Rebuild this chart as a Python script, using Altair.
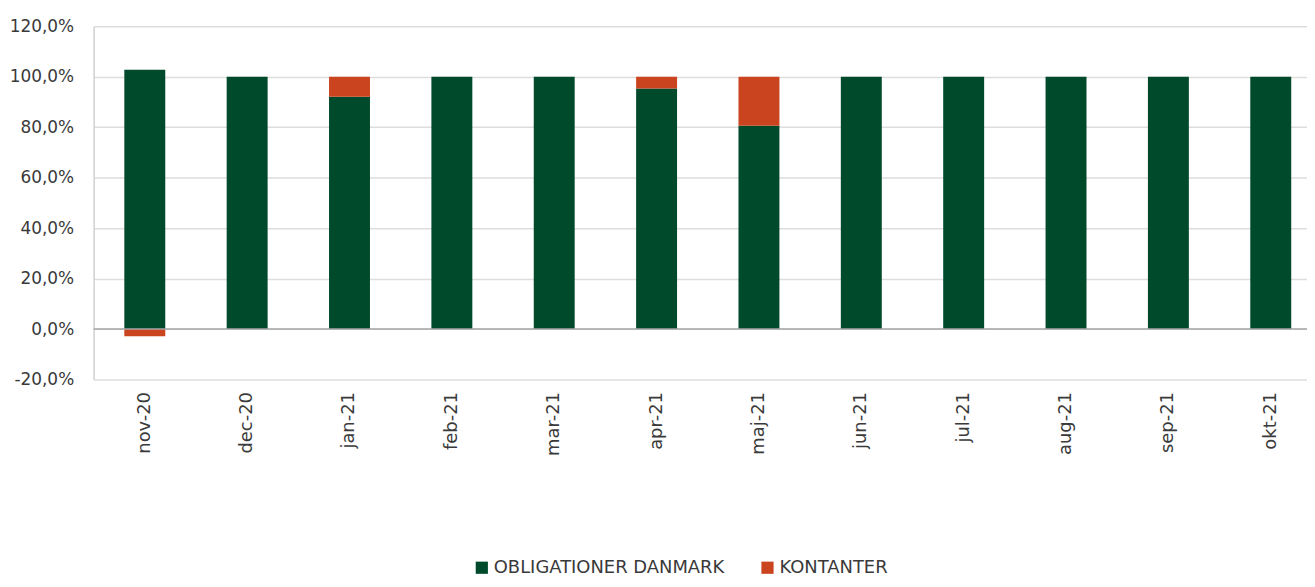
import altair as alt
import pandas as pd

months = ["nov-20", "dec-20", "jan-21", "feb-21", "mar-21", "apr-21",
          "maj-21", "jun-21", "jul-21", "aug-21", "sep-21", "okt-21"]
obligationer = [102.8, 100.0, 92.1, 100.0, 100.0, 95.3, 80.6, 100.0, 100.0, 100.0, 100.0, 100.0]
kontanter = [-2.8, 0.0, 7.9, 0.0, 0.0, 4.7, 19.4, 0.0, 0.0, 0.0, 0.0, 0.0]
series = ["OBLIGATIONER DANMARK", "KONTANTER"]
colors = ["#004A2C", "#C9441F"]
y_ticks = [-20, 0, 20, 40, 60, 80, 100, 120]

rows = []
for i, m in enumerate(months):
    rows.append({"month": m, "series": series[0], "value": obligationer[i], "ord": 0})
    rows.append({"month": m, "series": series[1], "value": kontanter[i], "ord": 1})
df = pd.DataFrame(rows)

FONT = "DejaVu Sans"
TXT = "#3A3A3A"

bars = alt.Chart(df).mark_bar().encode(
    x=alt.X("month:N", sort=months,
            scale=alt.Scale(paddingInner=0.6, paddingOuter=0.3, range=[0, 1234]),
            axis=alt.Axis(title=None, labelAngle=-90, labelFontSize=18, labelFont=FONT,
                          labelColor=TXT, labelPadding=12, ticks=False, domain=False,
                          grid=False, labelBaseline="middle", labelAlign="right")),
    y=alt.Y("value:Q", stack="zero",
            scale=alt.Scale(domain=[-20, 120], nice=False),
            axis=alt.Axis(title=None, values=y_ticks,
                          labelExpr="replace(replace(format(datum.value, '.1f'), '.', ','), '\u2212', '-') + '%'",
                          labelFontSize=17, labelFont=FONT, labelColor=TXT, labelPadding=20,
                          ticks=False, domain=True, domainColor="#D0D0D0", domainWidth=1.5,
                          grid=True, gridColor="#DDDDDD", gridWidth=1.5)),
    color=alt.Color("series:N", sort=series,
                    scale=alt.Scale(domain=series, range=colors),
                    legend=alt.Legend(title=None, orient="none", direction="horizontal",
                                      legendX=381, legendY=535, symbolType="square",
                                      symbolSize=150, symbolStrokeWidth=0,
                                      labelFontSize=18, labelFont=FONT, labelColor=TXT,
                                      labelOffset=3, columnPadding=34, labelLimit=500)),
    order=alt.Order("ord:Q"),
)

zero = alt.Chart(pd.DataFrame({"value": [0]})).mark_rule(color="#A6A6A6", strokeWidth=1.5).encode(
    y=alt.Y("value:Q")
)

chart = alt.layer(bars, zero).properties(
    width=1219, height=355,
    autosize=alt.AutoSizeParams(type="none"),
    padding={"left": 86, "top": 17, "right": 0, "bottom": 198},
).configure_view(stroke=None)

chart.save("out.html", embed_options={"renderer": "svg", "actions": False})
